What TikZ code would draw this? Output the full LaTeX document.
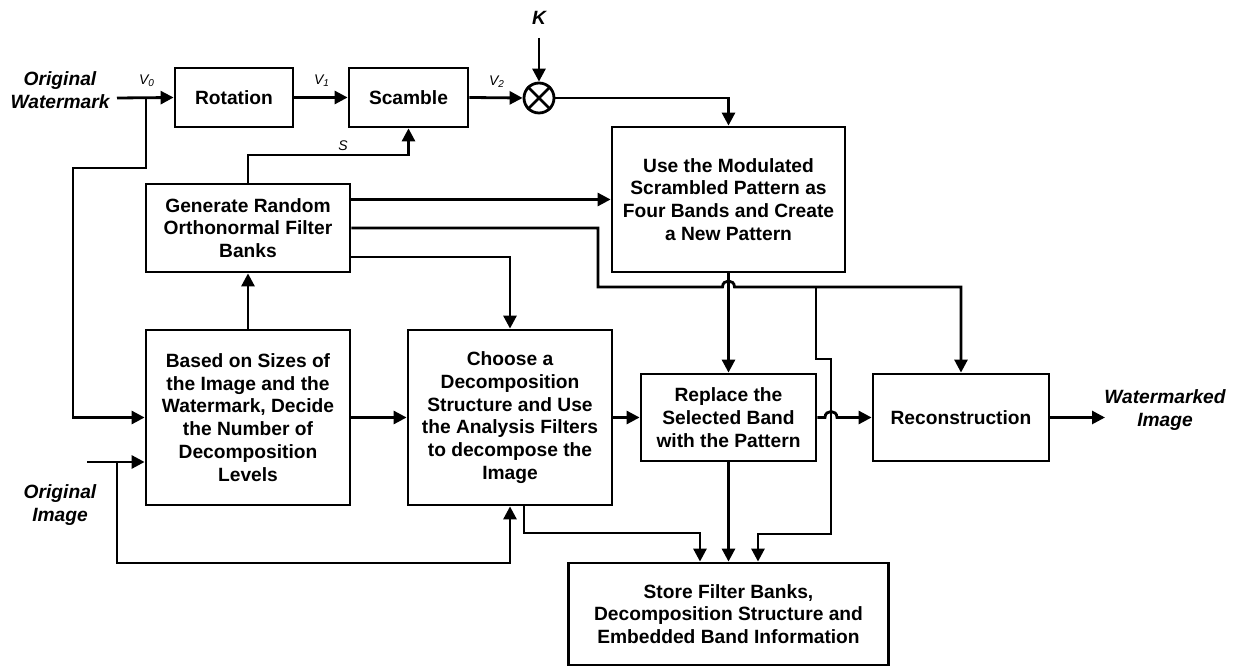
\documentclass[tikz,border=0pt]{standalone}
\usepackage{fontspec}
\setmainfont{Liberation Sans}
\usetikzlibrary{arrows.meta,calc}
\begin{document}
\begin{tikzpicture}[x=0.5pt,y=-0.5pt, line width=1.4pt,
  box/.style={draw, line width=1.4pt, align=center, inner sep=0pt,
    font=\bfseries\fontsize{9.6}{11.4}\selectfont},
  lbl/.style={align=center, inner sep=0pt, font=\bfseries\itshape\fontsize{9.6}{11.4}\selectfont},
  sml/.style={inner sep=0pt, font=\itshape\fontsize{7}{8}\selectfont},
  arr/.style={-{Triangle[length=6.5pt,width=6.5pt]}, line width=1.4pt}]
\useasboundingbox (0,0) rectangle (1233,667);

% boxes
\node[box, minimum width=59pt, minimum height=29.5pt] (rot) at (234,97.5) {Rotation};
\node[box, minimum width=59.5pt, minimum height=29.5pt] (scm) at (408.5,97.5) {Scamble};
\node[draw, circle, minimum size=15pt, inner sep=0pt, line width=1.4pt] (mul) at (539,98) {};
\draw (mul.north west) -- (mul.south east) (mul.north east) -- (mul.south west);
\node[box, minimum width=116.5pt, minimum height=72.5pt] (use) at (728.5,199.5)
  {Use the Modulated\\Scrambled Pattern as\\Four Bands and Create\\a New Pattern};
\node[box, minimum width=102pt, minimum height=44pt] (gen) at (248,228)
  {Generate Random\\Orthonormal Filter\\Banks};
\node[box, minimum width=102pt, minimum height=87.5pt] (based) at (248,417.5)
  {Based on Sizes of\\the Image and the\\Watermark, Decide\\the Number of\\Decomposition\\Levels};
\node[box, minimum width=102pt, minimum height=87.5pt] (choose) at (510,417.5)
  {Choose a\\Decomposition\\Structure and Use\\the Analysis Filters\\to decompose the\\Image};
\node[box, minimum width=87.5pt, minimum height=43.5pt] (repl) at (728.5,417.5)
  {Replace the\\Selected Band\\with the Pattern};
\node[box, minimum width=88pt, minimum height=43.5pt] (rec) at (961,417.5) {Reconstruction};
\node[box, minimum width=160pt, minimum height=51pt] (store) at (728.5,614)
  {Store Filter Banks,\\Decomposition Structure and\\Embedded Band Information};

% labels
\node[lbl] (wm) at (60,90) {Original\\Watermark};
\node[lbl] (oi) at (60,505) {Original\\Image};
\node[lbl] (wi) at (1165,410) {Watermarked\\Image};
\node[lbl] (k) at (539,18) {K};
\node[sml] (v0) at (147,81) {V\textsubscript{0}};
\node[sml] (v1) at (322,81) {V\textsubscript{1}};
\node[sml] (v2) at (497,82) {V\textsubscript{2}};
\node[sml] (s) at (343,146) {S};

% coordinates
\coordinate (wmin) at (117,98);
\coordinate (b0) at (146,98);
\coordinate (kin) at (539,38);
\coordinate (imin) at (87,462);
\coordinate (b1) at (117,462);
\coordinate (out) at (1105,417.5);
\coordinate (j1) at (816,287);

% connectors
\draw[arr] (wmin) -- (rot.west);
\draw[arr] (b0) -- (146,168) -- (73,168) |- (based.west);
\draw[arr] (rot.east) -- (scm.west);
\draw[arr] (scm.east) -- (mul.west);
\draw[arr] (kin) -- (mul.north);
\draw[arr] (mul.east) -| (use.north);
\draw[arr] (gen.north) -- (248,155) -| (scm.south);
\draw[arr] (gen.east |- use.west) -- (use.west);
\draw[arr] (gen.east) -- (598,228) -- (598,287) -- (722.5,287)
  .. controls (722.5,279) and (734.5,279) .. (734.5,287) -- (961,287) -- (rec.north);
\draw[arr] (j1) -- (816,359) -- (831,359) -- (831,534) -| ($(store.north)+(29.5,0)$);
\draw[arr] ($(gen.east)+(0,29)$) -| (choose.north);
\draw[arr] (based.north) -- (gen.south);
\draw[arr] (based.east) -- (choose.west);
\draw[arr] (imin) -- (based.west |- imin);
\draw[arr] (b1) -- (117,563) -| (choose.south);
\draw[arr] (choose.east) -- (repl.west);
\draw[arr] (use.south) -- (repl.north);
\draw[arr] (repl.east) -- (825,417.5) .. controls (825,409.5) and (837,409.5) .. (837,417.5) -- (rec.west);
\draw[arr] (rec.east) -- (out);
\draw[arr] ($(choose.south)+(14,0)$) -- (524,533) -| ($(store.north)+(-28.5,0)$);
\draw[arr] (repl.south) -- (store.north);
\end{tikzpicture}
\end{document}
